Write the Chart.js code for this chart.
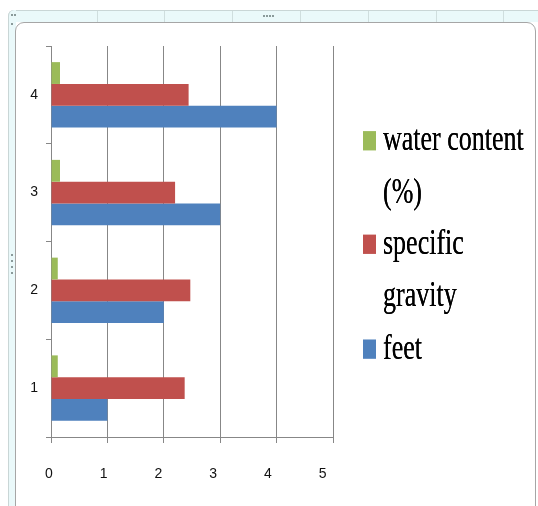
<!DOCTYPE html>
<html>
<head>
<meta charset="utf-8">
<script src="https://cdn.jsdelivr.net/npm/chart.js@4.4.1/dist/chart.umd.min.js"></script>
<style>
  html, body { margin: 0; padding: 0; background: #ffffff; }
  #wrap { position: relative; width: 538px; height: 506px; overflow: hidden; }
  .strip-top { position: absolute; left: 8px; top: 10px; width: 540px; height: 12px;
    background: #eaf9fa; border-top: 1px solid #c9d6d6; border-left: 1px solid #c9d6d6;
    border-top-left-radius: 6px; box-sizing: border-box; }
  .strip-left { position: absolute; left: 8px; top: 10px; width: 8px; height: 520px;
    background: #eaf9fa; border-left: 1px solid #c9d6d6; border-top-left-radius: 6px; box-sizing: border-box; }
  .sep { position: absolute; top: 11px; width: 1px; height: 11px; background: #cfdede; }
  .panel { position: absolute; left: 15px; top: 22px; width: 521px; height: 500px;
    background: #ffffff; border: 1px solid #a6a6a6; border-radius: 9px 9px 0 0; box-sizing: border-box; }
  .dot { position: absolute; width: 2px; height: 2px; background: #8a9a9a; }
  canvas { position: absolute; left: 0; top: 0; }
  #legend { position: absolute; left: 363px; top: 0; transform-origin: 0 0; transform: scaleY(1.38);
    font-family: "Liberation Serif", "Times New Roman", serif; font-size: 26px; color: #000;
    padding-top: 82px; text-shadow: 0 0 0.4px #000; }
  #legend .line { line-height: 37.7px; white-space: nowrap; }
  #legend .box { display: inline-block; width: 13px; height: 14px; margin-right: 7px; vertical-align: baseline; }
  #legend .cont { padding-left: 20px; }
</style>
</head>
<body>
<div id="wrap">
  <div class="strip-top"></div>
  <div class="strip-left"></div>
  <div class="sep" style="left:97px"></div>
  <div class="sep" style="left:164px"></div>
  <div class="sep" style="left:232px"></div>
  <div class="sep" style="left:300px"></div>
  <div class="sep" style="left:368px"></div>
  <div class="sep" style="left:436px"></div>
  <div class="sep" style="left:503px"></div>
  <div class="dot" style="left:263px;top:15px"></div>
  <div class="dot" style="left:266px;top:15px"></div>
  <div class="dot" style="left:269px;top:15px"></div>
  <div class="dot" style="left:272px;top:15px"></div>
  <div class="dot" style="left:11px;top:14px"></div>
  <div class="dot" style="left:14px;top:14px"></div>
  <div class="dot" style="left:11px;top:23px"></div>
  <div class="dot" style="left:11px;top:254px"></div>
  <div class="dot" style="left:11px;top:260px"></div>
  <div class="dot" style="left:11px;top:266px"></div>
  <div class="dot" style="left:11px;top:272px"></div>
  <div class="panel"></div>
  <canvas id="c" width="538" height="506"></canvas>
  <div id="legend"></div>
</div>
<script>
// ---- data ----
const categories = ['1', '2', '3', '4'];
const seriesNames = ['water content (%)', 'specific gravity', 'feet'];
const waterContent = [0.12, 0.12, 0.16, 0.16];
const specificGravity = [2.37, 2.47, 2.20, 2.44];
const feet = [1, 2, 3, 4];
const xTicks = [0, 1, 2, 3, 4, 5];

const colors = ['#9BBB59', '#C0504D', '#4F81BD'];
const gridColor = '#878787';
const tickFont = { family: 'Liberation Sans, Arial, sans-serif', size: 14 };

const ctx = document.getElementById('c').getContext('2d');
new Chart(ctx, {
  type: 'bar',
  data: {
    labels: categories,
    datasets: [
      { label: seriesNames[0], data: waterContent, backgroundColor: colors[0] },
      { label: seriesNames[1], data: specificGravity, backgroundColor: colors[1] },
      { label: seriesNames[2], data: feet, backgroundColor: colors[2] }
    ]
  },
  options: {
    indexAxis: 'y',
    responsive: false,
    animation: false,
    devicePixelRatio: 1,
    layout: { padding: { left: 0, top: 46, right: 205, bottom: 0 } },
    datasets: { bar: { categoryPercentage: 0.67, barPercentage: 1.0 } },
    plugins: { legend: { display: false }, tooltip: { enabled: false } },
    scales: {
      x: {
        type: 'linear', position: 'bottom', min: 0, max: 5,
        afterBuildTicks: s => { s.ticks = xTicks.map(v => ({ value: v })); },
        grid: { color: gridColor, lineWidth: 1, drawTicks: true, tickLength: 6, tickColor: gridColor },
        border: { display: true, color: gridColor, width: 1 },
        ticks: { display: false },
        afterFit: s => { s.height = 6; }
      },
      x2: {
        type: 'linear', position: 'bottom', min: 0, max: 5.155,
        afterBuildTicks: s => { s.ticks = xTicks.map(v => ({ value: v })); },
        grid: { display: false, drawTicks: false },
        border: { display: false },
        ticks: { font: tickFont, color: '#111111', padding: 23, labelOffset: -2, maxRotation: 0 },
        afterFit: s => { s.height = 63; }
      },
      y: {
        type: 'category', reverse: true,
        grid: { drawOnChartArea: false, drawTicks: true, tickLength: 5, color: gridColor, offset: true },
        border: { display: true, color: gridColor, width: 1 },
        ticks: { font: tickFont, color: '#111111', padding: 8 },
        afterFit: s => { s.width = 51; }
      }
    }
  }
});

// ---- legend (HTML text) ----
const legendLines = [
  [0, 'water content', true], [0, '(%)', false],
  [1, 'specific', true], [1, 'gravity', false],
  [2, 'feet', true]
];
const lg = document.getElementById('legend');
legendLines.forEach(([i, txt, first]) => {
  const d = document.createElement('div');
  d.className = 'line' + (first ? '' : ' cont');
  if (first) {
    const b = document.createElement('span');
    b.className = 'box';
    b.style.background = colors[i];
    d.appendChild(b);
  }
  d.appendChild(document.createTextNode(txt));
  lg.appendChild(d);
});
</script>
</body>
</html>
